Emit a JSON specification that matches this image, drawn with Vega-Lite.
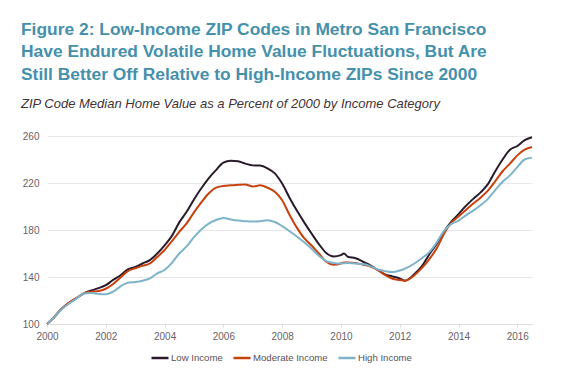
{
  "$schema": "https://vega.github.io/schema/vega-lite/v6.json",
  "width": 485,
  "height": 188,
  "autosize": "none",
  "padding": {"left": 47, "top": 136, "right": 44, "bottom": 47},
  "background": "white",
  "title": {
    "text": ["Figure 2: Low-Income ZIP Codes in Metro San Francisco", "Have Endured Volatile Home Value Fluctuations, But Are", "Still Better Off Relative to High-Income ZIPs Since 2000"],
    "subtitle": "ZIP Code Median Home Value as a Percent of 2000 by Income Category",
    "anchor": "start",
    "frame": "group",
    "dx": -26,
    "offset": 20,
    "font": "Liberation Sans",
    "fontSize": 17.4,
    "fontWeight": "bold",
    "color": "#4590ab",
    "lineHeight": 22.3,
    "subtitleFont": "Liberation Sans",
    "subtitleFontSize": 13,
    "subtitleFontStyle": "italic",
    "subtitleColor": "#3f3338",
    "subtitlePadding": 15
  },
  "data": {
    "values": [
      {"yr": 2000, "Low Income": 100, "Moderate Income": 100, "High Income": 100},
      {"yr": 2000.25, "Low Income": 106, "Moderate Income": 106, "High Income": 106},
      {"yr": 2000.5, "Low Income": 113, "Moderate Income": 113, "High Income": 112.5},
      {"yr": 2000.75, "Low Income": 118, "Moderate Income": 118, "High Income": 117.5},
      {"yr": 2001, "Low Income": 122, "Moderate Income": 122, "High Income": 121.5},
      {"yr": 2001.25, "Low Income": 126, "Moderate Income": 126, "High Income": 126},
      {"yr": 2001.5, "Low Income": 128.5, "Moderate Income": 127.5, "High Income": 126.3},
      {"yr": 2001.75, "Low Income": 130.5, "Moderate Income": 128, "High Income": 125.5},
      {"yr": 2002, "Low Income": 133, "Moderate Income": 130, "High Income": 125.3},
      {"yr": 2002.25, "Low Income": 137.5, "Moderate Income": 134, "High Income": 127.5},
      {"yr": 2002.5, "Low Income": 141.5, "Moderate Income": 139.5, "High Income": 132},
      {"yr": 2002.75, "Low Income": 146.5, "Moderate Income": 145, "High Income": 135.2},
      {"yr": 2003, "Low Income": 148.5, "Moderate Income": 147.5, "High Income": 135.7},
      {"yr": 2003.25, "Low Income": 151.5, "Moderate Income": 149.5, "High Income": 136.8},
      {"yr": 2003.5, "Low Income": 154.4, "Moderate Income": 151.5, "High Income": 138.8},
      {"yr": 2003.75, "Low Income": 160, "Moderate Income": 157, "High Income": 143},
      {"yr": 2004, "Low Income": 167, "Moderate Income": 163, "High Income": 146},
      {"yr": 2004.25, "Low Income": 175, "Moderate Income": 170.5, "High Income": 152},
      {"yr": 2004.5, "Low Income": 186.5, "Moderate Income": 178.5, "High Income": 160},
      {"yr": 2004.75, "Low Income": 195.5, "Moderate Income": 185.7, "High Income": 166},
      {"yr": 2005, "Low Income": 206, "Moderate Income": 195, "High Income": 174},
      {"yr": 2005.25, "Low Income": 215.5, "Moderate Income": 203.5, "High Income": 180.5},
      {"yr": 2005.5, "Low Income": 224, "Moderate Income": 211, "High Income": 185.5},
      {"yr": 2005.75, "Low Income": 231, "Moderate Income": 216, "High Income": 188.5},
      {"yr": 2006, "Low Income": 237.3, "Moderate Income": 217.5, "High Income": 190.3},
      {"yr": 2006.25, "Low Income": 239, "Moderate Income": 218, "High Income": 189},
      {"yr": 2006.5, "Low Income": 238.5, "Moderate Income": 218.5, "High Income": 188},
      {"yr": 2006.75, "Low Income": 236.5, "Moderate Income": 218.8, "High Income": 187.5},
      {"yr": 2007, "Low Income": 235, "Moderate Income": 217, "High Income": 187.2},
      {"yr": 2007.25, "Low Income": 234.8, "Moderate Income": 218, "High Income": 187.5},
      {"yr": 2007.5, "Low Income": 232.5, "Moderate Income": 216, "High Income": 188.2},
      {"yr": 2007.75, "Low Income": 228.2, "Moderate Income": 212.5, "High Income": 186.8},
      {"yr": 2008, "Low Income": 219.5, "Moderate Income": 205.3, "High Income": 183.3},
      {"yr": 2008.25, "Low Income": 207.5, "Moderate Income": 193, "High Income": 179},
      {"yr": 2008.5, "Low Income": 196.5, "Moderate Income": 182, "High Income": 174.5},
      {"yr": 2008.75, "Low Income": 186.5, "Moderate Income": 173, "High Income": 169.5},
      {"yr": 2009, "Low Income": 177, "Moderate Income": 166.8, "High Income": 164},
      {"yr": 2009.25, "Low Income": 168, "Moderate Income": 160, "High Income": 158},
      {"yr": 2009.5, "Low Income": 160.5, "Moderate Income": 153, "High Income": 153.5},
      {"yr": 2009.75, "Low Income": 157.5, "Moderate Income": 150.5, "High Income": 152},
      {"yr": 2010, "Low Income": 158.6, "Moderate Income": 151.5, "High Income": 151.5},
      {"yr": 2010.1, "Low Income": 160, "Moderate Income": 152.4, "High Income": 151.8},
      {"yr": 2010.25, "Low Income": 157, "Moderate Income": 152.4, "High Income": 152},
      {"yr": 2010.5, "Low Income": 156, "Moderate Income": 152, "High Income": 151.5},
      {"yr": 2010.75, "Low Income": 153, "Moderate Income": 150.5, "High Income": 151},
      {"yr": 2011, "Low Income": 150, "Moderate Income": 148.8, "High Income": 149.3},
      {"yr": 2011.25, "Low Income": 146, "Moderate Income": 146, "High Income": 146.5},
      {"yr": 2011.5, "Low Income": 142.3, "Moderate Income": 141.8, "High Income": 145},
      {"yr": 2011.75, "Low Income": 140.5, "Moderate Income": 138.5, "High Income": 144.2},
      {"yr": 2012, "Low Income": 138.8, "Moderate Income": 137.4, "High Income": 145.5},
      {"yr": 2012.17, "Low Income": 136.8, "Moderate Income": 136.8, "High Income": 147},
      {"yr": 2012.5, "Low Income": 142.5, "Moderate Income": 141.5, "High Income": 151.5},
      {"yr": 2012.75, "Low Income": 149, "Moderate Income": 147.5, "High Income": 156},
      {"yr": 2013, "Low Income": 159, "Moderate Income": 155, "High Income": 161},
      {"yr": 2013.25, "Low Income": 168, "Moderate Income": 164, "High Income": 169},
      {"yr": 2013.5, "Low Income": 178.5, "Moderate Income": 176.4, "High Income": 179},
      {"yr": 2013.75, "Low Income": 187, "Moderate Income": 186, "High Income": 185},
      {"yr": 2014, "Low Income": 193.5, "Moderate Income": 191.5, "High Income": 188},
      {"yr": 2014.25, "Low Income": 200.5, "Moderate Income": 197, "High Income": 192.5},
      {"yr": 2014.5, "Low Income": 206.5, "Moderate Income": 202.5, "High Income": 196.5},
      {"yr": 2014.75, "Low Income": 212, "Moderate Income": 207.5, "High Income": 201},
      {"yr": 2015, "Low Income": 219, "Moderate Income": 213.5, "High Income": 206.5},
      {"yr": 2015.25, "Low Income": 230, "Moderate Income": 221.5, "High Income": 214},
      {"yr": 2015.5, "Low Income": 240, "Moderate Income": 230, "High Income": 221},
      {"yr": 2015.75, "Low Income": 248.3, "Moderate Income": 236.5, "High Income": 226.5},
      {"yr": 2016, "Low Income": 251.5, "Moderate Income": 243.5, "High Income": 233.5},
      {"yr": 2016.25, "Low Income": 256.5, "Moderate Income": 248.5, "High Income": 240},
      {"yr": 2016.5, "Low Income": 259, "Moderate Income": 250.7, "High Income": 241.6}
    ]
  },
  "transform": [
    {"fold": ["Low Income", "Moderate Income", "High Income"], "as": ["series", "value"]}
  ],
  "mark": {"type": "line", "strokeWidth": 2, "interpolate": "monotone"},
  "encoding": {
    "x": {
      "field": "yr",
      "type": "quantitative",
      "scale": {"domain": [2000, 2016.5], "nice": false, "zero": false},
      "axis": {
        "title": null,
        "values": [2000, 2002, 2004, 2006, 2008, 2010, 2012, 2014, 2016],
        "format": "d",
        "grid": false,
        "domain": true,
        "domainColor": "#dcdcdc",
        "ticks": true,
        "tickSize": 3,
        "tickColor": "#dcdcdc",
        "labelPadding": 4,
        "labelFont": "Liberation Sans",
        "labelFontSize": 10,
        "labelColor": "#6b5f66",
        "labelFlush": false
      }
    },
    "y": {
      "field": "value",
      "type": "quantitative",
      "scale": {"domain": [100, 260], "nice": false, "zero": false},
      "axis": {
        "title": null,
        "values": [100, 140, 180, 220, 260],
        "grid": true,
        "gridColor": "#e8e8e8",
        "gridWidth": 1,
        "domain": false,
        "ticks": false,
        "labelPadding": 8,
        "labelFont": "Liberation Sans",
        "labelFontSize": 10,
        "labelColor": "#6b5f66"
      }
    },
    "color": {
      "field": "series",
      "type": "nominal",
      "sort": ["Low Income", "Moderate Income", "High Income"],
      "scale": {
        "domain": ["Low Income", "Moderate Income", "High Income"],
        "range": ["#2a1b2b", "#c7410f", "#7db4c9"]
      },
      "legend": {
        "title": null,
        "orient": "none",
        "legendX": 103,
        "legendY": 212,
        "direction": "horizontal",
        "symbolType": "stroke",
        "symbolSize": 289,
        "symbolStrokeWidth": 2.5,
        "labelFont": "Liberation Sans",
        "labelFontSize": 9.6,
        "labelColor": "#5a5055",
        "labelOffset": 1,
        "columnPadding": 5,
        "padding": 0
      }
    }
  },
  "config": {"view": {"stroke": null}}
}
